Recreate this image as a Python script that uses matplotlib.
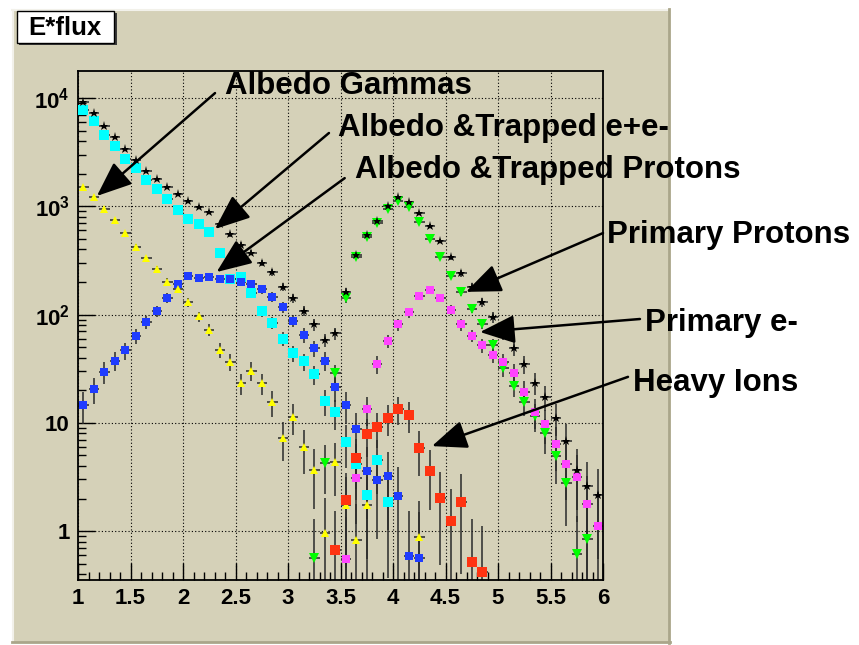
import numpy as np
import matplotlib
matplotlib.use("Agg")
import matplotlib.pyplot as plt
from matplotlib.patches import Rectangle
from matplotlib.ticker import FixedLocator, MultipleLocator, LogLocator, FuncFormatter, NullFormatter

nan = np.nan

# E*flux histograms, bins of width 0.1 from 1 to 6; each series starts at its first filled bin
bin_width = 0.1

total_start = 1.05
total = [9130, 7310, 5510, 4340, 3380, 2690, 2130, 1775, 1510, 1290,
         1120, 990, 886, 690, 551, 442, 373, 301, 246, 181,
         141, 108, 81, 58, 67, 163, 355, 543, 731, 1006,
         1210, 1090, 860, 658, 479, 338, 240, 180, 130, 94,
         67, 49, 35, 23.5, 17.3, 11.2, 6.86, 3.65, 2.6, 2.16]

albedo_ee_start = 1.05
albedo_ee = [7750, 6170, 4550, 3580, 2740, 2240, 1760, 1445, 1175, 918,
             769, 683, 580, 371, 212, 224, 157, 107, 84, 60,
             44, 37, 28, 15.9, 12.5, 6.7, 4.17, 2.16, 4.54, 1.86]

albedo_gamma_start = 1.05
albedo_gamma = [1508, 1228, 938, 743, 571, 424, 331, 262, 202, 172,
                131, 96, 72, 47, 36.7, 23.2, 30.4, 23.2, 15.5, 7.3,
                11.3, 6.0, 3.67, 0.96, 4.32, 1.75, 0.82, 1.75, nan, nan,
                nan, nan, 0.88]

albedo_p_start = 1.05
albedo_p = [14.5, 20.4, 29.5, 37.6, 46.8, 63.4, 85, 108, 143, 193,
            227, 219, 224, 215, 215, 201, 190, 171, 146, 117,
            88, 65, 49, 37.6, 21.3, 14.5, 8.8, 3.62, 2.95, 3.21,
            2.11, 0.59, 0.57]

primary_p_start = 3.25
primary_p = [0.56, 4.24, 28.7, 141, 338, 524, 706, 944, 1128, 993,
             711, 499, 338, 229, 161, 113, 82, 52, 32.4, 21.9,
             15.5, 11.6, 8.0, 4.94, 2.77, 0.61, 0.85]

primary_e_start = 3.55
primary_e = [0.55, 3.08, 13.4, 34.8, 57, 81, 105, 149, 169, 143,
             110, 81, 64, 52, 42.6, 36.3, 29, 19.4, 12.7, 9.8,
             6.4, 4.17, 3.15, 1.78, 1.12]

ions_start = 3.45
ions = [0.67, 1.95, 4.78, 7.9, 9.1, 11.1, 13.4, 11.8, 5.8, 3.6,
        2.01, 1.24, 1.87, 0.52, 0.42]

tan = "#d5d1b8"

plt.rcParams["mathtext.fontset"] = "custom"
plt.rcParams["mathtext.bf"] = "Liberation Sans:bold"
plt.rcParams["mathtext.rm"] = "Liberation Sans:bold"

fig = plt.figure(figsize=(8.59, 6.45), dpi=100)
fig.patch.set_facecolor("white")

W, H = 859.0, 645.0


def fx(px):
    return px / W


def fy(py):
    return 1 - py / H


# canvas panel with bevelled edge
fig.patches.append(Rectangle((fx(12), fy(643)), fx(658), 634 / H, transform=fig.transFigure,
                             facecolor=tan, edgecolor="none", zorder=-5))
fig.add_artist(plt.Line2D([fx(12), fx(669)], [fy(10), fy(10)], transform=fig.transFigure,
                          color="#f2f1ea", lw=1.5, zorder=-4))
fig.add_artist(plt.Line2D([fx(13), fx(13)], [fy(10), fy(642)], transform=fig.transFigure,
                          color="#f2f1ea", lw=1.5, zorder=-4))
fig.add_artist(plt.Line2D([fx(669), fx(669)], [fy(9), fy(643)], transform=fig.transFigure,
                          color="#aaa68a", lw=2, zorder=-4))
fig.add_artist(plt.Line2D([fx(12), fx(670)], [fy(642), fy(642)], transform=fig.transFigure,
                          color="#aaa68a", lw=2, zorder=-4))

ax = fig.add_axes([fx(78), fy(580), 525 / W, 509 / H])
ax.set_zorder(1)
ax.set_facecolor(tan)
ax.set_yscale("log", nonpositive="clip")
ax.set_xlim(1, 6)
ax.set_ylim(0.354, 17750)

series = [
    (albedo_ee_start, albedo_ee, "s", "#00ffff", 6.5, 1.2),
    (albedo_p_start, albedo_p, "s", "#1f3cff", 5.5, 1.5),
    (albedo_gamma_start, albedo_gamma, "^", "#ffff00", 5.5, 1.15),
    (primary_p_start, primary_p, "v", "#00ff00", 6.5, 1.0),
    (primary_e_start, primary_e, "s", "#ff44ff", 6.0, 1.2),
    (ions_start, ions, "s", "#ff3311", 6.5, 1.15),
    (total_start, total, "*", "black", 6.5, 1.2),
]

for start, vals, marker, color, ms, k in series:
    y = np.array(vals, dtype=float)
    x = start + bin_width * np.arange(len(y))
    err = np.sqrt(k * y)
    ax.errorbar(x, y, yerr=err, xerr=bin_width / 2, fmt="none", ecolor="#2a2a2a",
                elinewidth=1.1, capsize=0, zorder=2)
    ax.plot(x, y, linestyle="none", marker=marker, color=color, markersize=ms,
            markeredgewidth=0, zorder=3)

# ticks and grid in the ROOT style
ax.xaxis.set_major_locator(MultipleLocator(0.5))
ax.xaxis.set_minor_locator(MultipleLocator(0.1))
ax.yaxis.set_major_locator(FixedLocator([1, 10, 100, 1000, 10000]))
ax.yaxis.set_minor_locator(LogLocator(base=10, subs=np.arange(2, 10)))
ax.yaxis.set_minor_formatter(NullFormatter())


def xfmt(v, pos):
    return "%g" % v


def yfmt(v, pos):
    e = int(round(np.log10(v)))
    if e == 0:
        return "1"
    if e == 1:
        return "10"
    return r"$\mathbf{10^{%d}}$" % e


ax.xaxis.set_major_formatter(FuncFormatter(xfmt))
ax.yaxis.set_major_formatter(FuncFormatter(yfmt))

ax.tick_params(which="both", direction="in", top=False, right=False, color="black")
ax.tick_params(which="major", length=12, width=1.0, pad=6)
ax.tick_params(which="minor", length=5.5, width=1.0)
for lab in ax.get_xticklabels() + ax.get_yticklabels():
    lab.set_fontfamily("Liberation Sans")
    lab.set_fontweight("bold")
    lab.set_fontsize(16)
ax.grid(True, which="major", color="black", linestyle=(0, (1, 2)), linewidth=0.8)
for sp in ax.spines.values():
    sp.set_linewidth(1.3)
    sp.set_color("black")

# title box
fig.patches.append(Rectangle((fx(19), fy(45)), fx(98), 32 / H, transform=fig.transFigure,
                             facecolor="#3a3a3a", edgecolor="none", zorder=5))
fig.patches.append(Rectangle((fx(17), fy(43)), fx(97), 32 / H, transform=fig.transFigure,
                             facecolor="white", edgecolor="black", lw=1, zorder=6))
fig.text(fx(65), fy(28), "E*flux", ha="center", va="center", fontsize=18.5,
         fontweight="bold", family="Liberation Sans", zorder=7)

# labels with arrows pointing at each component
labels = [
    ("Albedo Gammas", 225, 86, (2.305, 11100), (1.18, 1245)),
    ("Albedo &Trapped e+e-", 338, 128, (3.39, 4750), (2.305, 617)),
    ("Albedo &Trapped Protons", 355, 170, (3.54, 1820), (2.32, 247)),
    ("Primary Protons", 607, 235, (6.0, 566), (4.695, 162)),
    ("Primary e-", 645, 323, (6.352, 91), (4.829, 69)),
    ("Heavy Ions", 633, 383, (6.238, 26.6), (4.371, 6.1)),
]
for text, tx, ty, start, tip in labels:
    fig.text(fx(tx), fy(ty), text, ha="left", va="center", fontsize=22.5,
             fontweight="bold", family="Liberation Sans", zorder=8)
    ax.annotate("", xy=tip, xytext=start, xycoords="data", textcoords="data",
                annotation_clip=False, zorder=9,
                arrowprops=dict(arrowstyle="-|>,head_length=1.35,head_width=0.55",
                                mutation_scale=16, color="black", lw=1.8,
                                shrinkA=0, shrinkB=0))

fig.savefig("out.png", dpi=100, facecolor=fig.get_facecolor())
